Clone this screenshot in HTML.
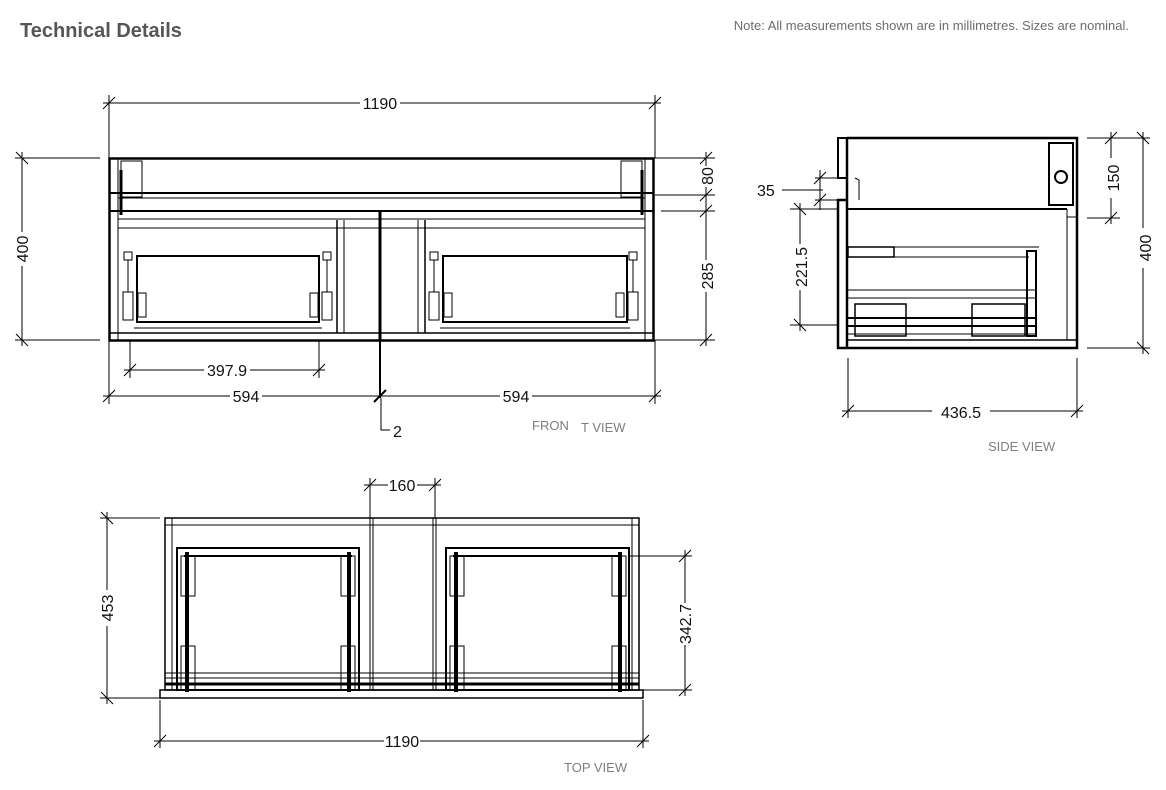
<!DOCTYPE html>
<html><head><meta charset="utf-8"><style>
html,body{margin:0;padding:0;background:#fff;width:1166px;height:790px;overflow:hidden}
svg{display:block}
.d{font-family:"Liberation Sans",sans-serif;font-size:16px;fill:#111}
.g{font-family:"Liberation Sans",sans-serif;font-size:13px;fill:#7a7f86}
</style></head><body>
<svg width="1166" height="790" viewBox="0 0 1166 790" xmlns="http://www.w3.org/2000/svg">
<text x="20" y="37" font-family="Liberation Sans,sans-serif" font-size="20" font-weight="bold" fill="#55565a">Technical Details</text>
<text x="1129" y="30" text-anchor="end" font-family="Liberation Sans,sans-serif" font-size="13" fill="#6a6d72">Note: All measurements shown are in millimetres. Sizes are nominal.</text>

<!-- ============ FRONT VIEW ============ -->
<g stroke="#000" fill="none">
<rect x="109.5" y="158.5" width="544" height="182" stroke-width="2.5"/>
<line x1="109" y1="193" x2="654" y2="193" stroke-width="2"/>
<line x1="118" y1="198" x2="645" y2="198" stroke-width="1"/>
<line x1="109" y1="211" x2="654" y2="211" stroke-width="2"/>
<line x1="118" y1="219" x2="645" y2="219" stroke-width="1"/>
<line x1="118" y1="228" x2="645" y2="228" stroke-width="1"/>
<line x1="118" y1="158" x2="118" y2="340" stroke-width="1"/>
<line x1="645" y1="158" x2="645" y2="340" stroke-width="1"/>
<line x1="109" y1="333" x2="654" y2="333" stroke-width="1.5"/>
<rect x="121" y="161" width="21" height="36" stroke-width="1"/>
<rect x="621" y="161" width="21" height="36" stroke-width="1"/>
<line x1="121" y1="170" x2="121" y2="215" stroke-width="3"/>
<line x1="642" y1="170" x2="642" y2="215" stroke-width="3"/>
<line x1="337" y1="220" x2="337" y2="333" stroke-width="1.5"/>
<line x1="344" y1="220" x2="344" y2="333" stroke-width="1"/>
<line x1="380" y1="211" x2="380" y2="340" stroke-width="3"/>
<line x1="418" y1="220" x2="418" y2="333" stroke-width="1"/>
<line x1="425" y1="220" x2="425" y2="333" stroke-width="1.5"/>
<g stroke-width="2">
<rect x="137" y="256" width="182" height="66"/>
<rect x="443" y="256" width="184" height="66"/>
</g>
<g stroke-width="1">
<line x1="134" y1="328" x2="322" y2="328"/><line x1="440" y1="328" x2="630" y2="328"/>
<rect x="124" y="252" width="8" height="8"/><rect x="323" y="252" width="8" height="8"/>
<rect x="430" y="252" width="8" height="8"/><rect x="629" y="252" width="8" height="8"/>
<line x1="128" y1="260" x2="128" y2="292"/><line x1="327" y1="260" x2="327" y2="292"/>
<line x1="434" y1="260" x2="434" y2="292"/><line x1="633" y1="260" x2="633" y2="292"/>
<rect x="123" y="292" width="10" height="28"/><rect x="138" y="293" width="8" height="24"/>
<rect x="322" y="292" width="10" height="28"/><rect x="310" y="293" width="8" height="24"/>
<rect x="429" y="292" width="10" height="28"/><rect x="444" y="293" width="8" height="24"/>
<rect x="628" y="292" width="10" height="28"/><rect x="616" y="293" width="8" height="24"/>
</g>
</g>
<g stroke="#000" stroke-width="1" fill="none">
<line x1="109" y1="95" x2="109" y2="158"/><line x1="655" y1="95" x2="655" y2="158"/>
<line x1="103" y1="103" x2="360" y2="103"/><line x1="400" y1="103" x2="661" y2="103"/>
<line x1="103" y1="109" x2="115" y2="97"/><line x1="649" y1="109" x2="661" y2="97"/>
<line x1="15" y1="158" x2="100" y2="158"/><line x1="15" y1="340" x2="100" y2="340"/>
<line x1="22" y1="152" x2="22" y2="232"/><line x1="22" y1="266" x2="22" y2="346"/>
<line x1="16" y1="152" x2="28" y2="164"/><line x1="16" y1="334" x2="28" y2="346"/>
<line x1="655" y1="158" x2="715" y2="158"/><line x1="655" y1="195" x2="715" y2="195"/>
<line x1="661" y1="211" x2="715" y2="211"/><line x1="655" y1="340" x2="715" y2="340"/>
<line x1="706" y1="152" x2="706" y2="166"/><line x1="706" y1="187" x2="706" y2="260"/><line x1="706" y1="292" x2="706" y2="346"/>
<line x1="700" y1="164" x2="712" y2="152"/><line x1="700" y1="201" x2="712" y2="189"/><line x1="700" y1="217" x2="712" y2="205"/><line x1="700" y1="346" x2="712" y2="334"/>
<line x1="130" y1="340" x2="130" y2="378"/><line x1="319" y1="340" x2="319" y2="378"/>
<line x1="124" y1="370" x2="204" y2="370"/><line x1="250" y1="370" x2="325" y2="370"/>
<line x1="124" y1="376" x2="136" y2="364"/><line x1="313" y1="376" x2="325" y2="364"/>
<line x1="109" y1="340" x2="109" y2="404"/><line x1="655" y1="340" x2="655" y2="404"/>
<line x1="103" y1="396" x2="230" y2="396"/><line x1="262" y1="396" x2="500" y2="396"/><line x1="532" y1="396" x2="661" y2="396"/>
<line x1="103" y1="402" x2="115" y2="390"/><line x1="649" y1="402" x2="661" y2="390"/>
<line x1="380" y1="340" x2="380" y2="398" stroke-width="2"/>
<line x1="374" y1="402" x2="386" y2="390" stroke-width="2"/>
<polyline points="381,398 381,430 390,430"/>
</g>
<text class="d" x="380" y="109" text-anchor="middle">1190</text>
<text class="d" transform="translate(28,249) rotate(-90)" text-anchor="middle">400</text>
<text class="d" transform="translate(713,176) rotate(-90)" text-anchor="middle">80</text>
<text class="d" transform="translate(713,276) rotate(-90)" text-anchor="middle">285</text>
<text class="d" x="227" y="376" text-anchor="middle">397.9</text>
<text class="d" x="246" y="402" text-anchor="middle">594</text>
<text class="d" x="516" y="402" text-anchor="middle">594</text>
<text class="d" x="393" y="437">2</text>
<text class="g" x="532" y="430">FRON</text><text class="g" x="581" y="432">T VIEW</text>

<!-- ============ SIDE VIEW ============ -->
<g stroke="#000" fill="none">
<polyline points="847,138 1077,138 1077,348 838,348 838,200 847,200" stroke-width="2.5"/>
<polyline points="847,138 838,138 838,178 847,178" stroke-width="2"/>
<line x1="847" y1="138" x2="847" y2="348" stroke-width="2.5"/>
<line x1="847" y1="209" x2="1067" y2="209" stroke-width="2"/>
<line x1="1067" y1="209" x2="1067" y2="340" stroke-width="1"/>
<line x1="1067" y1="217" x2="1077" y2="217" stroke-width="1"/>
<line x1="847" y1="340" x2="1077" y2="340" stroke-width="1.5"/>
<rect x="1049" y="143" width="24" height="62" stroke-width="2"/>
<circle cx="1061" cy="177" r="6" stroke-width="2"/>
<polyline points="855,178 859,180 859,200" stroke-width="1"/>
<rect x="848" y="247" width="46" height="10" stroke-width="1.5"/>
<line x1="894" y1="247" x2="1039" y2="247" stroke-width="1"/>
<line x1="894" y1="257" x2="1029" y2="257" stroke-width="1"/>
<rect x="1027" y="251" width="9" height="85" stroke-width="2"/>
<line x1="848" y1="290" x2="1036" y2="290" stroke-width="1"/>
<line x1="848" y1="298" x2="1036" y2="298" stroke-width="1"/>
<rect x="855" y="304" width="51" height="32" stroke-width="1.5"/>
<rect x="972" y="304" width="53" height="32" stroke-width="1.5"/>
<line x1="848" y1="318" x2="1036" y2="318" stroke-width="2"/>
<line x1="846" y1="326" x2="1036" y2="326" stroke-width="2"/>
<line x1="848" y1="334" x2="1036" y2="334" stroke-width="1"/>
</g>
<g stroke="#000" stroke-width="1" fill="none">
<line x1="782" y1="190" x2="823" y2="190"/>
<line x1="815" y1="178" x2="838" y2="178"/><line x1="815" y1="200" x2="838" y2="200"/>
<line x1="820" y1="170" x2="820" y2="210"/>
<line x1="814" y1="184" x2="826" y2="172"/><line x1="814" y1="206" x2="826" y2="194"/>
<line x1="790" y1="209" x2="838" y2="209"/><line x1="790" y1="325" x2="838" y2="325"/>
<line x1="800" y1="203" x2="800" y2="244"/><line x1="800" y1="290" x2="800" y2="331"/>
<line x1="794" y1="203" x2="806" y2="215"/><line x1="794" y1="319" x2="806" y2="331"/>
<line x1="1087" y1="138" x2="1150" y2="138"/><line x1="1087" y1="218" x2="1120" y2="218"/><line x1="1087" y1="348" x2="1150" y2="348"/>
<line x1="1111" y1="132" x2="1111" y2="158"/><line x1="1111" y1="198" x2="1111" y2="224"/>
<line x1="1105" y1="144" x2="1117" y2="132"/><line x1="1105" y1="224" x2="1117" y2="212"/>
<line x1="1143" y1="132" x2="1143" y2="228"/><line x1="1143" y1="268" x2="1143" y2="354"/>
<line x1="1137" y1="132" x2="1149" y2="144"/><line x1="1137" y1="342" x2="1149" y2="354"/>
<line x1="848" y1="358" x2="848" y2="418"/><line x1="1077" y1="358" x2="1077" y2="418"/>
<line x1="842" y1="411" x2="932" y2="411"/><line x1="990" y1="411" x2="1083" y2="411"/>
<line x1="842" y1="417" x2="854" y2="405"/><line x1="1071" y1="417" x2="1083" y2="405"/>
</g>
<text class="d" x="757" y="196" font-size="18">35</text>
<text class="d" transform="translate(807,267) rotate(-90)" text-anchor="middle" font-size="18">221.5</text>
<text class="d" transform="translate(1119,178) rotate(-90)" text-anchor="middle" font-size="18">150</text>
<text class="d" transform="translate(1151,248) rotate(-90)" text-anchor="middle" font-size="18">400</text>
<text class="d" x="961" y="418" text-anchor="middle" font-size="18">436.5</text>
<text class="g" x="988" y="451">SIDE VIEW</text>

<!-- ============ TOP VIEW ============ -->
<g stroke="#000" fill="none">
<rect x="165" y="518" width="474" height="172" stroke-width="1.5"/>
<line x1="165" y1="525" x2="639" y2="525" stroke-width="1"/>
<line x1="172" y1="518" x2="172" y2="690" stroke-width="1"/>
<line x1="632" y1="518" x2="632" y2="690" stroke-width="1"/>
<rect x="160" y="690" width="483" height="8" stroke-width="1.5"/>
<line x1="370" y1="518" x2="370" y2="690" stroke-width="1"/>
<line x1="373" y1="518" x2="373" y2="690" stroke-width="1"/>
<line x1="433" y1="518" x2="433" y2="690" stroke-width="1"/>
<line x1="436" y1="518" x2="436" y2="690" stroke-width="1"/>
<line x1="165" y1="673" x2="639" y2="673" stroke-width="1"/>
<line x1="165" y1="678" x2="639" y2="678" stroke-width="1"/>
<line x1="165" y1="684" x2="639" y2="684" stroke-width="3"/>
<g stroke-width="2">
<rect x="177" y="548" width="182" height="142"/>
<rect x="446" y="548" width="183" height="142"/>
<line x1="184" y1="556" x2="352" y2="556"/><line x1="453" y1="556" x2="622" y2="556"/>
</g>
<g stroke-width="4">
<line x1="187" y1="552" x2="187" y2="692"/><line x1="349" y1="552" x2="349" y2="692"/>
<line x1="456" y1="552" x2="456" y2="692"/><line x1="620" y1="552" x2="620" y2="692"/>
</g>
<g stroke-width="1">
<rect x="181" y="556" width="14" height="40"/><rect x="341" y="556" width="14" height="40"/>
<rect x="181" y="646" width="14" height="44"/><rect x="341" y="646" width="14" height="44"/>
<rect x="450" y="556" width="14" height="40"/><rect x="612" y="556" width="14" height="40"/>
<rect x="450" y="646" width="14" height="44"/><rect x="612" y="646" width="14" height="44"/>
</g>
</g>
<g stroke="#000" stroke-width="1" fill="none">
<line x1="370" y1="478" x2="370" y2="518"/><line x1="435" y1="478" x2="435" y2="518"/>
<line x1="364" y1="485" x2="388" y2="485"/><line x1="417" y1="485" x2="441" y2="485"/>
<line x1="364" y1="491" x2="376" y2="479"/><line x1="429" y1="491" x2="441" y2="479"/>
<line x1="100" y1="518" x2="160" y2="518"/><line x1="100" y1="698" x2="160" y2="698"/>
<line x1="107" y1="512" x2="107" y2="590"/><line x1="107" y1="626" x2="107" y2="704"/>
<line x1="101" y1="512" x2="113" y2="524"/><line x1="101" y1="692" x2="113" y2="704"/>
<line x1="629" y1="556" x2="692" y2="556"/><line x1="643" y1="690" x2="692" y2="690"/>
<line x1="685" y1="550" x2="685" y2="603"/><line x1="685" y1="645" x2="685" y2="696"/>
<line x1="679" y1="562" x2="691" y2="550"/><line x1="679" y1="696" x2="691" y2="684"/>
<line x1="160" y1="700" x2="160" y2="748"/><line x1="643" y1="700" x2="643" y2="748"/>
<line x1="154" y1="741" x2="384" y2="741"/><line x1="420" y1="741" x2="649" y2="741"/>
<line x1="154" y1="747" x2="166" y2="735"/><line x1="637" y1="747" x2="649" y2="735"/>
</g>
<text class="d" x="402" y="491" text-anchor="middle" font-size="14">160</text>
<text class="d" transform="translate(113,608) rotate(-90)" text-anchor="middle" font-size="14">453</text>
<text class="d" transform="translate(691,624) rotate(-90)" text-anchor="middle" font-size="14">342.7</text>
<text class="d" x="402" y="747" text-anchor="middle" font-size="14">1190</text>
<text class="g" x="564" y="772">TOP VIEW</text>
</svg>
</body></html>
